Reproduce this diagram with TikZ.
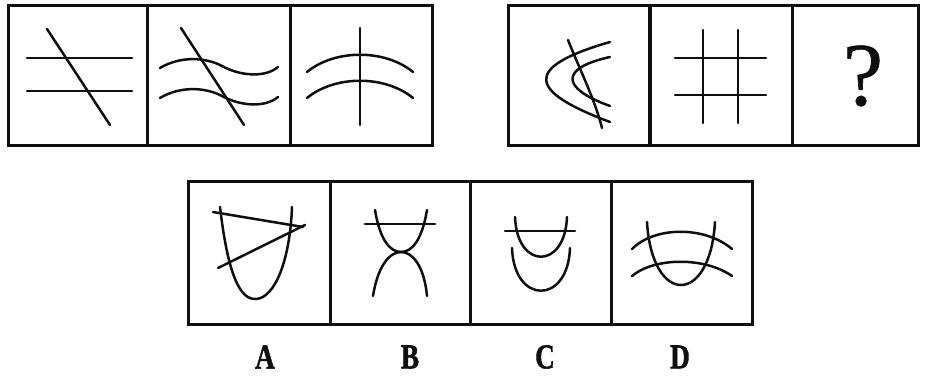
\documentclass[tikz,border=0pt]{standalone}
\usepackage{fontspec}
\usepackage{xcolor}
\usepackage{tikz}
\usetikzlibrary{positioning, calc}
\newfontfamily\optfont{Liberation Serif}[BoldFeatures={FakeBold=1.5}]
\newfontfamily\askfont{Liberation Serif}[FakeBold=0.7]
\definecolor{ink}{RGB}{15, 15, 15}
\tikzset{
    cellbox/.style={draw=ink, line width=3pt},
    stroke/.style={draw=ink, line width=2.5pt, line cap=round},
    qmark/.style={text=ink, inner sep=0pt, font=\askfont\fontsize{90}{90}\selectfont},
    optlabel/.style={text=ink, inner sep=0pt, font=\optfont\bfseries\fontsize{35}{35}\selectfont}
}

\begin{document}
\begin{tikzpicture}[x=1pt, y=-1pt]

    \useasboundingbox (0,0) rectangle (925,379);

    % question rows
    \draw [cellbox] (8,6) rectangle (432,146);
    \draw [cellbox] (147,6) -- (147,146);
    \draw [cellbox] (290,6) -- (290,146);
    \draw [cellbox] (508,6) rectangle (918,146);
    \draw [cellbox, line width=3.6pt] (650,6) -- (650,146);
    \draw [cellbox] (792,6) -- (792,146);

    % options row
    \draw [cellbox] (188,182) rectangle (752,324);
    \foreach \xd in {330, 470, 611}
        \draw [cellbox] (\xd,182) -- (\xd,324);

    % cell 1
    \draw [stroke] (27,58) -- (132,58);
    \draw [stroke] (27,91) -- (132,91);
    \draw [stroke] (47,29) -- (110,125);

    % cell 2
    \draw [stroke] (160,68) .. controls (180,56) and (205,57) .. (222,66) .. controls (240,76) and (265,78) .. (278,67);
    \draw [stroke] (160,98) .. controls (180,86) and (205,87) .. (222,96) .. controls (240,106) and (265,108) .. (278,97);
    \draw [stroke] (181,28) -- (244,125);

    % cell 3
    \draw [stroke] (307,72) .. controls (335,49) and (385,49) .. (413,72);
    \draw [stroke] (307,98) .. controls (335,75) and (385,75) .. (413,98);
    \draw [stroke] (360,28) -- (360,125);

    % cell 4
    \draw [stroke] (610,42) .. controls (520,68) and (530,92) .. (610,122);
    \draw [stroke] (610,57) .. controls (560,68) and (560,88) .. (610,106);
    \draw [stroke] (568,40) .. controls (580,70) and (595,100) .. (602,128);

    % cell 5
    \draw [stroke] (675,58) -- (766,58);
    \draw [stroke] (675,95) -- (766,95);
    \draw [stroke] (703,30) -- (703,123);
    \draw [stroke] (738,30) -- (738,123);

    % cell 6
    \node (ask) [qmark] at (863,76) {?};

    % option A
    \draw [stroke] (220,207) .. controls (228,275) and (240,300) .. (256,299) .. controls (275,298) and (290,260) .. (292,207);
    \draw [stroke] (213,212) -- (303,227);
    \draw [stroke] (218,268) -- (305,225);

    % option B
    \draw [stroke] (365,224) -- (435,224);
    \draw [stroke] (375,210) .. controls (380,240) and (390,252) .. (401,252) .. controls (412,252) and (422,240) .. (427,210);
    \draw [stroke] (373,296) .. controls (378,265) and (390,252) .. (401,252) .. controls (412,252) and (424,265) .. (427,296);

    % option C
    \draw [stroke] (505,231) -- (575,231);
    \draw [stroke] (515,217) .. controls (517,270) and (565,270) .. (567,217);
    \draw [stroke] (512,248) .. controls (514,305) and (568,305) .. (570,248);

    % option D
    \draw [stroke] (647,222) .. controls (652,306) and (710,306) .. (715,222);
    \draw [stroke] (632,249) .. controls (655,226) and (705,226) .. (732,249);
    \draw [stroke] (632,276) .. controls (655,257) and (705,257) .. (732,276);

    % labels
    \node (labA) [optlabel] at (265,357) {\scalebox{0.78}[1]{A}};
    \node (labB) [optlabel] at (410,357) {\scalebox{0.78}[1]{B}};
    \node (labC) [optlabel] at (545,357) {\scalebox{0.78}[1]{C}};
    \node (labD) [optlabel] at (680,357) {\scalebox{0.78}[1]{D}};

\end{tikzpicture}
\end{document}
